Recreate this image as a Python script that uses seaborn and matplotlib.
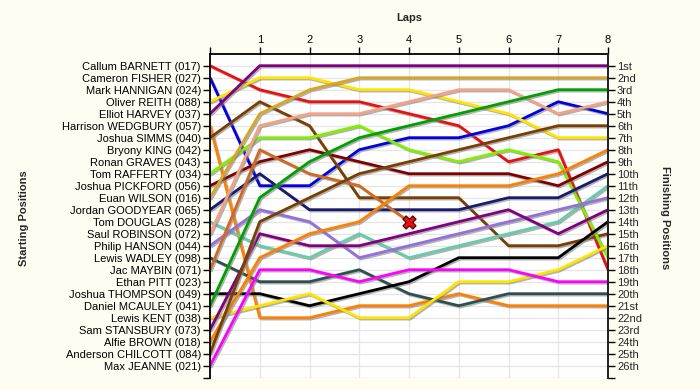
import matplotlib
matplotlib.use('Agg')
import matplotlib.pyplot as plt
import matplotlib.patheffects as pe
import pandas as pd
import seaborn as sns

# starting grid, top to bottom
starters = ['Callum BARNETT (017)', 'Cameron FISHER (027)', 'Mark HANNIGAN (024)',
            'Oliver REITH (088)', 'Elliot HARVEY (037)', 'Harrison WEDGBURY (057)',
            'Joshua SIMMS (040)', 'Bryony KING (042)', 'Ronan GRAVES (043)',
            'Tom RAFFERTY (034)', 'Joshua PICKFORD (056)', 'Euan WILSON (016)',
            'Jordan GOODYEAR (065)', 'Tom DOUGLAS (028)', 'Saul ROBINSON (072)',
            'Philip HANSON (044)', 'Lewis WADLEY (098)', 'Jac MAYBIN (071)',
            'Ethan PITT (023)', 'Joshua THOMPSON (049)', 'Daniel MCAULEY (041)',
            'Lewis KENT (038)', 'Sam STANSBURY (073)', 'Alfie BROWN (018)',
            'Anderson CHILCOTT (084)', 'Max JEANNE (021)']
finish_labels = ['1st', '2nd', '3rd'] + ['%dth' % i for i in range(4, 21)] + \
                ['21st', '22nd', '23rd', '24th', '25th', '26th']
lap_ticks = [1, 2, 3, 4, 5, 6, 7, 8]

# position at the end of each lap (lap 0 = grid)
barnett = [1, 3, 4, 4, 5, 6, 9, 8, 18]
fisher = [2, 11, 11, 8, 7, 7, 6, 4, 5]
reith = [4, 2, 2, 3, 3, 4, 5, 7, 7]
harvey = [5, 1, 1, 1, 1, 1, 1, 1, 1]
wedgbury = [6, 22, 22, 21, 21, 20, 21, 21, 21]
simms = [7, 4, 6, 12, 12, 12, 16, 16, 15]
rafferty = [10, 7, 7, 6, 8, 9, 8, 9, 17]
pickford = [11, 9, 8, 9, 10, 10, 10, 11, 9]
wilson = [12, 5, 3, 2, 2, 2, 2, 2, 2]
goodyear = [13, 10, 13, 13, 13, 13, 12, 12, 10]
douglas = [14, 16, 17, 15, 17, 16, 15, 14, 11]
robinson = [15, 6, 5, 5, 4, 3, 3, 5, 4]
hanson = [16, 13, 14, 17, 16, 15, 14, 13, 12]
wadley = [17, 19, 19, 18, 20, 21, 20, 20, 20]
maybin = [18, 8, 10, 11, 14]          # retired on lap 4
thompson = [20, 20, 21, 20, 19, 17, 17, 17, 14]
mcauley = [21, 12, 9, 7, 6, 5, 4, 3, 3]
kent = [22, 21, 20, 22, 22, 19, 19, 18, 16]
stansbury = [23, 15, 16, 16, 15, 14, 13, 15, 13]
brown = [24, 17, 15, 14, 11, 11, 11, 10, 8]
chilcott = [25, 14, 12, 10, 9, 8, 7, 6, 6]
jeanne = [26, 18, 18, 19, 18, 18, 18, 19, 19]

runners = [barnett, fisher, reith, harvey, wedgbury, simms, rafferty, pickford,
           wilson, goodyear, douglas, robinson, hanson, wadley, maybin, thompson,
           mcauley, kent, stansbury, brown, chilcott, jeanne]
colours = ['#E81010', '#0000E0', '#FFE400', '#800080', '#FF8000', '#7A3E00',
           '#80F000', '#800000', '#DAA520', '#1A1A70', '#66CDAA', '#F4A284',
           '#9370DB', '#2F4F4F', '#D2691E', '#000000', '#00A000', '#FFE400',
           '#800080', '#FF8000', '#7A3E00', '#FF00FF']

rows = []
for i, pos in enumerate(runners):
    name = starters[pos[0] - 1]
    for lap, p in enumerate(pos):
        rows.append({'driver': name, 'lap': lap, 'pos': p})
df = pd.DataFrame(rows)
palette = {starters[r[0] - 1]: c for r, c in zip(runners, colours)}

sns.set_style('white')
plt.rcParams['font.family'] = ['Liberation Sans', 'DejaVu Sans']

fig = plt.figure(figsize=(7, 3.9), dpi=100, facecolor='#FFFDF2')
ax = fig.add_axes([210 / 700, 1 - 377.7 / 390, 398 / 700, 324 / 390])
ax.set_facecolor('white')

sns.lineplot(data=df, x='lap', y='pos', hue='driver', palette=palette,
             estimator=None, sort=False, linewidth=2, legend=False, ax=ax)
for ln in ax.lines:
    ln.set_path_effects([pe.SimpleLineShadow(offset=(1, -1), shadow_color='#808080', alpha=0.6),
                         pe.Normal()])

# retirement marker
out = pd.DataFrame({'lap': [len(maybin) - 1], 'pos': [maybin[-1]]})
sns.scatterplot(data=out, x='lap', y='pos', marker='X', s=90, color='#E81010',
                edgecolor='#400000', linewidth=0.8, ax=ax, zorder=10)

n = len(starters)
ax.set_xlim(0, 8)
ax.set_ylim(n + 1, 0)
ax.set_xticks(range(0, 9))
ax.set_yticks(range(1, n + 2))
ax.set_yticklabels(starters + [''])
ax.xaxis.tick_top()
ax.set_xticklabels([''] + [str(l) for l in lap_ticks])
ax.set_xlabel('')
ax.set_ylabel('')
ax.grid(True, color='#E6E6E6', linewidth=1)
ax.set_axisbelow(True)
for s in ['top', 'left', 'right']:
    ax.spines[s].set_visible(True)
    ax.spines[s].set_color('black')
    ax.spines[s].set_linewidth(1.3)
ax.spines['bottom'].set_visible(False)
ax.tick_params(axis='both', direction='out', length=5, width=1, color='black',
               labelsize=8, pad=1.5, labelcolor='black')
ax.tick_params(axis='x', top=True, bottom=False)
ax.tick_params(axis='y', left=True)

ax2 = ax.twinx()
ax2.set_ylim(n + 1, 0)
ax2.set_yticks(range(1, n + 2))
ax2.set_yticklabels(finish_labels + [''])
ax2.tick_params(axis='y', direction='out', length=5, width=1, color='black',
                labelsize=8, pad=1.5, right=True)
for s in ['top', 'bottom', 'left']:
    ax2.spines[s].set_visible(False)
ax2.spines['right'].set_linewidth(1.3)
ax2.grid(False)

fig.text(409 / 700, 1 - 18 / 390, 'Laps', ha='center', va='center',
         fontsize=8, fontweight='bold')
fig.text(24 / 700, 1 - 218 / 390, 'Starting Positions', rotation=90,
         ha='center', va='center', fontsize=8, fontweight='bold')
fig.text(665 / 700, 1 - 218 / 390, 'Finishing Positions', rotation=270,
         ha='center', va='center', fontsize=8, fontweight='bold')

fig.savefig('out.png', dpi=100, facecolor=fig.get_facecolor())
